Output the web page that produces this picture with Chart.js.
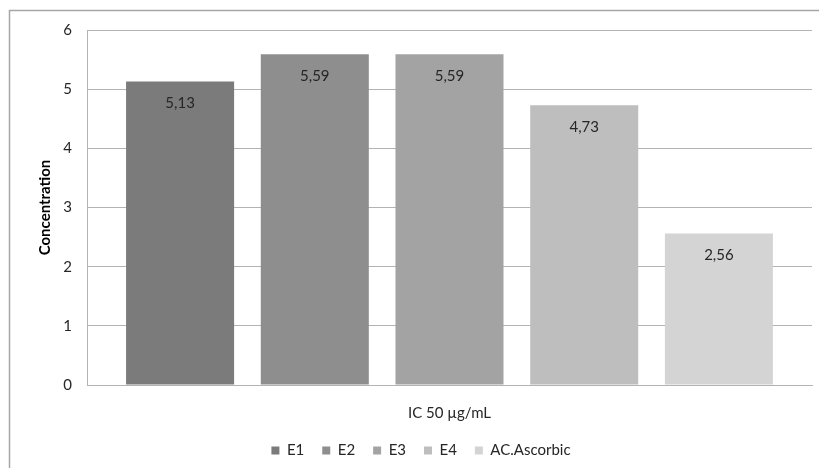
<!DOCTYPE html>
<html>
<head>
<meta charset="utf-8">
<script src="https://cdn.jsdelivr.net/npm/chart.js@4"></script>
<style>
  html, body { margin: 0; padding: 0; background: #fff; }
  #wrap { width: 819px; height: 468px; }
</style>
</head>
<body>
<div id="wrap"><canvas id="chart" width="819" height="468"></canvas></div>
<script>
// chart data
const categories = ['IC 50 µg/mL'];
const seriesNames = ['E1', 'E2', 'E3', 'E4', 'AC.Ascorbic'];
const seriesValues = [5.13, 5.59, 5.59, 4.73, 2.56];
const seriesColors = ['#7b7b7b', '#8e8e8e', '#a3a3a3', '#bebebe', '#d4d4d4'];

const FONT = 'Lato, "Liberation Sans", sans-serif';

// grey frame round the whole chart, like the spreadsheet export
const frame = {
  id: 'frame',
  beforeDraw(chart) {
    const ctx = chart.ctx;
    ctx.save();
    ctx.strokeStyle = '#a6a6a6';
    ctx.lineWidth = 1.5;
    ctx.strokeRect(9.5, 10.5, 840, 480);
    ctx.restore();
  }
};

// value labels just inside the top of each bar, with comma decimals
const barLabels = {
  id: 'barLabels',
  afterDatasetsDraw(chart) {
    const ctx = chart.ctx;
    ctx.save();
    ctx.font = '15px ' + FONT;
    ctx.fillStyle = '#262626';
    ctx.textAlign = 'center';
    ctx.textBaseline = 'middle';
    chart.data.datasets.forEach((ds, i) => {
      chart.getDatasetMeta(i).data.forEach((bar, j) => {
        const txt = ds.data[j].toFixed(2).replace('.', ',');
        ctx.fillText(txt, bar.x, bar.y + 22);
      });
    });
    ctx.restore();
  }
};

const datasets = seriesNames.map((name, i) => ({
  label: name,
  data: [seriesValues[i]],
  backgroundColor: seriesColors[i],
  borderWidth: 0,
  categoryPercentage: 0.929,
  barPercentage: 0.802
}));

new Chart(document.getElementById('chart'), {
  type: 'bar',
  data: { labels: categories, datasets: datasets },
  options: {
    responsive: false,
    animation: false,
    layout: { padding: { left: 30, top: 30, right: 7, bottom: 0 } },
    plugins: {
      tooltip: { enabled: false },
      legend: {
        position: 'bottom',
        labels: {
          boxWidth: 8,
          boxHeight: 8,
          padding: 18,
          color: '#262626',
          font: { family: FONT, size: 15 }
        }
      }
    },
    scales: {
      x: {
        grid: { display: false },
        border: { color: '#b3b3b3' },
        ticks: { color: '#262626', padding: 11, font: { family: FONT, size: 15 } },
        afterFit(scale) { scale.height = 40; }
      },
      y: {
        min: 0,
        max: 6,
        ticks: { stepSize: 1, padding: 15, color: '#262626', font: { family: FONT, size: 15 } },
        grid: { color: '#b3b3b3', drawTicks: false },
        border: { color: '#b3b3b3' },
        title: {
          display: true,
          text: 'Concentration',
          color: '#000',
          padding: { top: 6, bottom: 0 },
          font: { family: FONT, size: 15, weight: 'bold' }
        },
        afterFit(scale) { scale.width = 57; }
      }
    }
  },
  plugins: [frame, barLabels]
});
</script>
</body>
</html>
